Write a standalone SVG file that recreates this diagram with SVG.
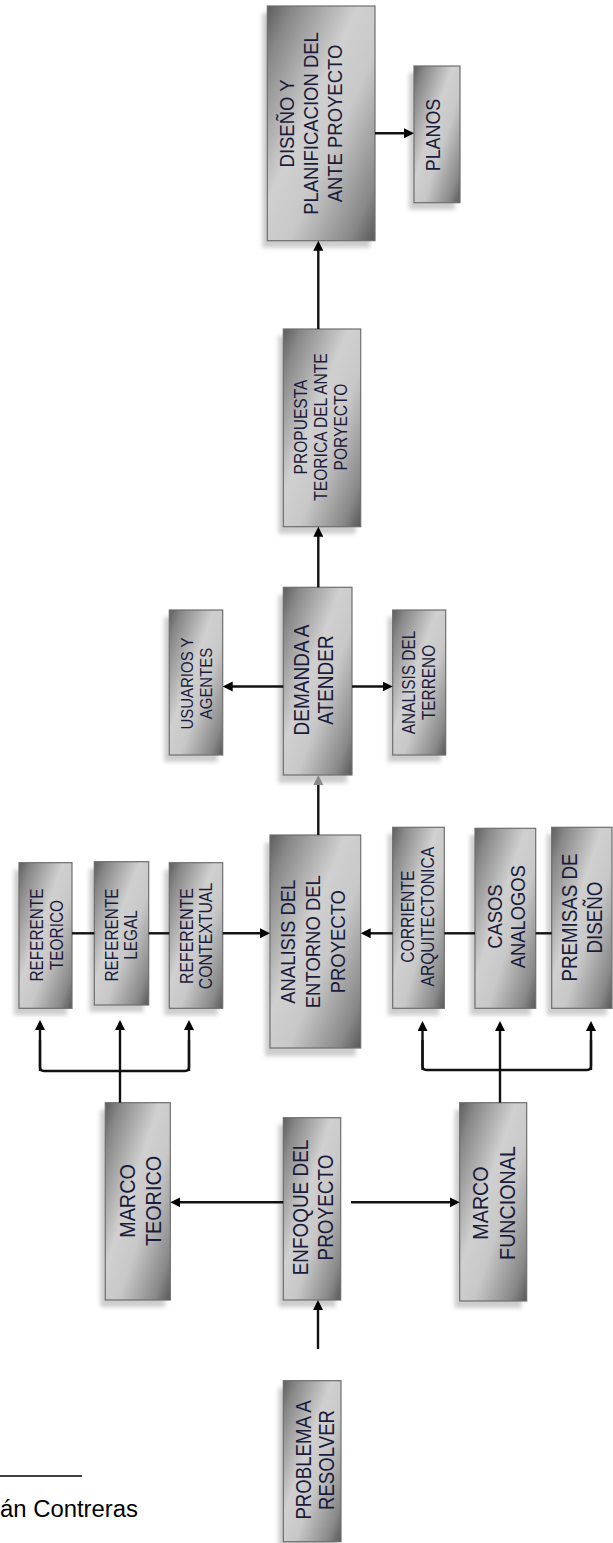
<svg xmlns="http://www.w3.org/2000/svg" width="613" height="1543" viewBox="0 0 613 1543">
<defs>
<style>
.box{fill:url(#gr);stroke:#6e6e6e;stroke-width:1.2}
.sh{fill:#b8b8b8;opacity:0.7;filter:url(#blur)}
.t{font-family:"Liberation Sans",Arial,sans-serif;fill:#1b1b3b;text-anchor:middle}
.c{fill:none;stroke:#111;stroke-width:2.4}
.a{marker-end:url(#ah)}
.ag{marker-end:url(#ahg)}
</style>
<linearGradient id="gr" x1="0" y1="0" x2="1" y2="1">
<stop offset="0" stop-color="#5e5e5e"/>
<stop offset="0.12" stop-color="#888888"/>
<stop offset="0.42" stop-color="#d0d0d0"/>
<stop offset="0.6" stop-color="#c8c8c8"/>
<stop offset="0.88" stop-color="#888888"/>
<stop offset="1" stop-color="#585858"/>
</linearGradient>
<filter id="blur" x="-20%" y="-20%" width="140%" height="140%"><feGaussianBlur stdDeviation="2.2"/></filter>
<marker id="ah" markerUnits="userSpaceOnUse" markerWidth="12" markerHeight="12" refX="7" refY="5" orient="auto"><path d="M0,0 L10,5 L0,10 Z" fill="#000"/></marker>
<marker id="ahg" markerUnits="userSpaceOnUse" markerWidth="12" markerHeight="12" refX="7" refY="5" orient="auto"><path d="M0,0 L10,5 L0,10 Z" fill="#8a8a8a"/></marker>
</defs>
<rect width="613" height="1543" fill="#fff"/>

<g id="n-diseno">
<rect class="sh" x="262.3" y="13" width="107.7" height="234.7"/>
<rect class="box" x="267.3" y="6" width="107.7" height="234.7"/>
<g transform="translate(293.5,123.5) rotate(-90) scale(0.88,1)"><text class="t" font-size="21"><tspan x="0" y="0">DISEÑO Y</tspan><tspan x="0" y="24.5">PLANIFICACION DEL</tspan><tspan x="0" y="48.5">ANTE PROYECTO</tspan></text></g>
</g>

<g id="n-planos">
<rect class="sh" x="409" y="73" width="46" height="136.7"/>
<rect class="box" x="414" y="66" width="46" height="136.7"/>
<g transform="translate(440,135) rotate(-90) scale(0.88,1)"><text class="t" font-size="20.3"><tspan x="0" y="0">PLANOS</tspan></text></g>
</g>

<g id="n-propuesta">
<rect class="sh" x="278.3" y="336" width="77.4" height="197.7"/>
<rect class="box" x="283.3" y="329" width="77.4" height="197.7"/>
<g transform="translate(306.7,427) rotate(-90) scale(0.88,1)"><text class="t" font-size="17.7"><tspan x="0" y="0">PROPUESTA</tspan><tspan x="0" y="20">TEORICA DEL ANTE</tspan><tspan x="0" y="40">PORYECTO</tspan></text></g>
</g>

<g id="n-demanda">
<rect class="sh" x="278.3" y="595.3" width="68.7" height="187.7"/>
<rect class="box" x="283.3" y="587.3" width="68.7" height="187.7"/>
<g transform="translate(309.3,680) rotate(-90) scale(0.88,1)"><text class="t" font-size="21.6"><tspan x="0" y="0">DEMANDA A</tspan><tspan x="0" y="24">ATENDER</tspan></text></g>
</g>

<g id="n-usuarios">
<rect class="sh" x="164.3" y="617" width="53.4" height="145"/>
<rect class="box" x="169.3" y="610" width="53.4" height="145"/>
<g transform="translate(193.3,683.5) rotate(-90) scale(0.88,1)"><text class="t" font-size="17"><tspan x="0" y="0">USUARIOS Y</tspan><tspan x="0" y="18.4">AGENTES</tspan></text></g>
</g>

<g id="n-terreno">
<rect class="sh" x="387.7" y="617" width="53" height="145"/>
<rect class="box" x="392.7" y="610" width="53" height="145"/>
<g transform="translate(415,682.5) rotate(-90) scale(0.88,1)"><text class="t" font-size="17.5"><tspan x="0" y="0">ANALISIS DEL</tspan><tspan x="0" y="20">TERRENO</tspan></text></g>
</g>

<g id="n-ref-teorico">
<rect class="sh" x="14" y="869.7" width="53" height="145.6"/>
<rect class="box" x="19" y="862.7" width="53" height="145.6"/>
<g transform="translate(42.7,935) rotate(-90) scale(0.88,1)"><text class="t" font-size="17.5"><tspan x="0" y="0">REFERENTE</tspan><tspan x="0" y="20.6">TEORICO</tspan></text></g>
</g>

<g id="n-ref-legal">
<rect class="sh" x="89.3" y="868.7" width="54.4" height="143.3"/>
<rect class="box" x="94.3" y="861.7" width="54.4" height="143.3"/>
<g transform="translate(118.3,935) rotate(-90) scale(0.88,1)"><text class="t" font-size="17.5"><tspan x="0" y="0">REFERENTE</tspan><tspan x="0" y="19">LEGAL</tspan></text></g>
</g>

<g id="n-ref-contextual">
<rect class="sh" x="164.3" y="869.7" width="53.4" height="145.6"/>
<rect class="box" x="169.3" y="862.7" width="53.4" height="145.6"/>
<g transform="translate(192.7,936) rotate(-90) scale(0.88,1)"><text class="t" font-size="18"><tspan x="0" y="0">REFERENTE</tspan><tspan x="0" y="19">CONTEXTUAL</tspan></text></g>
</g>

<g id="n-analisis-entorno">
<rect class="sh" x="265" y="843" width="90.7" height="213"/>
<rect class="box" x="270" y="835" width="90.7" height="213"/>
<g transform="translate(295,941.7) rotate(-90) scale(0.88,1)"><text class="t" font-size="21"><tspan x="0" y="0">ANALISIS DEL</tspan><tspan x="0" y="25">ENTORNO DEL</tspan><tspan x="0" y="50">PROYECTO</tspan></text></g>
</g>

<g id="n-corriente">
<rect class="sh" x="387.7" y="834.3" width="51.6" height="181"/>
<rect class="box" x="392.7" y="827.3" width="51.6" height="181"/>
<g transform="translate(414,916.7) rotate(-90) scale(0.88,1)"><text class="t" font-size="17.8"><tspan x="0" y="0">CORRIENTE</tspan><tspan x="0" y="20">ARQUITECTONICA</tspan></text></g>
</g>

<g id="n-casos">
<rect class="sh" x="470" y="835.3" width="60.7" height="180"/>
<rect class="box" x="475" y="828.3" width="60.7" height="180"/>
<g transform="translate(501.7,916.7) rotate(-90) scale(0.88,1)"><text class="t" font-size="20.9"><tspan x="0" y="0">CASOS</tspan><tspan x="0" y="23.5">ANALOGOS</tspan></text></g>
</g>

<g id="n-premisas">
<rect class="sh" x="546.7" y="834.3" width="60.3" height="181"/>
<rect class="box" x="551.7" y="827.3" width="60.3" height="181"/>
<g transform="translate(576.7,917.5) rotate(-90) scale(0.88,1)"><text class="t" font-size="21.3"><tspan x="0" y="0">PREMISAS DE</tspan><tspan x="0" y="25">DISEÑO</tspan></text></g>
</g>

<g id="n-marco-teorico">
<rect class="sh" x="100.3" y="1109.7" width="65" height="197.3"/>
<rect class="box" x="105.3" y="1102.7" width="65" height="197.3"/>
<g transform="translate(135,1201) rotate(-90) scale(0.88,1)"><text class="t" font-size="22.5"><tspan x="0" y="0">MARCO</tspan><tspan x="0" y="26.5">TEORICO</tspan></text></g>
</g>

<g id="n-enfoque">
<rect class="sh" x="278.3" y="1124.7" width="57.4" height="182.3"/>
<rect class="box" x="283.3" y="1117.7" width="57.4" height="182.3"/>
<g transform="translate(308.3,1207.5) rotate(-90) scale(0.88,1)"><text class="t" font-size="21.5"><tspan x="0" y="0">ENFOQUE DEL</tspan><tspan x="0" y="25">PROYECTO</tspan></text></g>
</g>

<g id="n-marco-funcional">
<rect class="sh" x="454.7" y="1109.7" width="67" height="198.3"/>
<rect class="box" x="459.7" y="1102.7" width="67" height="198.3"/>
<g transform="translate(488,1203) rotate(-90) scale(0.88,1)"><text class="t" font-size="22.4"><tspan x="0" y="0">MARCO</tspan><tspan x="0" y="26.7">FUNCIONAL</tspan></text></g>
</g>

<g id="n-problema">
<rect class="sh" x="278.3" y="1387.7" width="57.7" height="161"/>
<rect class="box" x="283.3" y="1380.7" width="57.7" height="161"/>
<g transform="translate(311,1460) rotate(-90) scale(0.88,1)"><text class="t" font-size="21.2"><tspan x="0" y="0">PROBLEMA A</tspan><tspan x="0" y="23.4">RESOLVER</tspan></text></g>
</g>

<g id="connectors">
<path class="c a" d="M318,1349 V1303"/>
<path class="c a" d="M283.3,1202.3 H173.3"/>
<path class="c a" d="M351,1202.3 H456.7"/>
<path class="c" d="M40,1040 V1067 Q40,1071 44,1071 H185 Q189,1071 189,1067 V1040"/>
<path class="c a" d="M40,1071 V1023"/>
<path class="c a" d="M120,1102.7 V1023"/>
<path class="c a" d="M189,1071 V1023"/>
<path class="c" d="M422.5,1040 V1066 Q422.5,1070 426.5,1070 H587 Q591,1070 591,1066 V1040"/>
<path class="c a" d="M422.5,1070 V1024"/>
<path class="c a" d="M500,1102.7 V1024"/>
<path class="c a" d="M591,1070 V1024"/>
<path class="c" d="M72,933.3 H94.3"/>
<path class="c" d="M148.7,933.3 H169.3"/>
<path class="c a" d="M222.7,933.3 H267"/>
<path class="c" d="M551.7,933.3 H535.7"/>
<path class="c" d="M475,933.3 H444.3"/>
<path class="c a" d="M392.7,933.3 H363.7"/>
<path class="c ag" d="M318.3,835 V778"/>
<path class="c a" d="M283.3,686.5 H225.7"/>
<path class="c a" d="M352,686.5 H389.7"/>
<path class="c a" d="M318.3,587.3 V529.7"/>
<path class="c a" d="M318.3,329 V243.7"/>
<path class="c a" d="M375,133.3 H411"/>
</g>

<g id="footnote">
<line x1="0" y1="1476" x2="82" y2="1476" stroke="#000" stroke-width="1.3"/>
<text x="0" y="1516.7" font-family="'Liberation Sans',Arial,sans-serif" font-size="23" fill="#000" textLength="138" lengthAdjust="spacingAndGlyphs">án Contreras</text>
</g>
</svg>
